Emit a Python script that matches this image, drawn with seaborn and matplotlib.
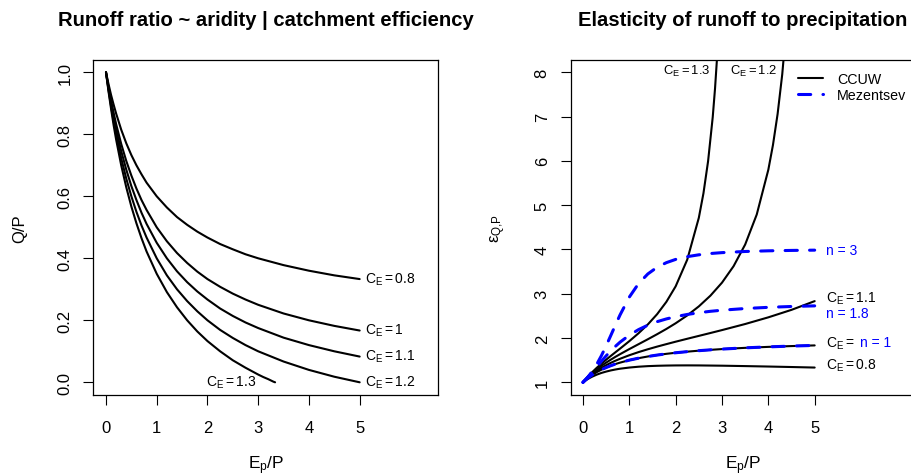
import matplotlib
matplotlib.use("Agg")
import matplotlib.pyplot as plt
import seaborn as sns

# ---------------- data ----------------
ep_p = [0, 0.05, 0.1, 0.15, 0.2, 0.3, 0.4, 0.5, 0.6, 0.7, 0.8, 1.0, 1.2, 1.4, 1.6, 1.8,
        2.0, 2.25, 2.5, 2.75, 3.0, 3.5, 4.0, 4.5, 5.0]
ep_p_ce13_left = [0, 0.05, 0.1, 0.15, 0.2, 0.3, 0.4, 0.5, 0.6, 0.7, 0.8, 1.0, 1.2, 1.4, 1.6,
                  1.8, 2.0, 2.25, 2.5, 2.75, 3.0, 3.1, 3.2, 3.3, 3.333]
ep_p_ce13_right = [0, 0.05, 0.1, 0.15, 0.2, 0.3, 0.4, 0.5, 0.6, 0.7, 0.8, 1.0, 1.2, 1.4, 1.6,
                   1.8, 2.0, 2.25, 2.5, 2.6, 2.7, 2.8, 2.85, 2.9, 2.95, 3.0]
ep_p_ce12_right = [0, 0.05, 0.1, 0.15, 0.2, 0.3, 0.4, 0.5, 0.6, 0.7, 0.8, 1.0, 1.2, 1.4, 1.6,
                   1.8, 2.0, 2.25, 2.5, 2.75, 3.0, 3.25, 3.5, 3.75, 4.0, 4.1, 4.2, 4.3, 4.4, 4.5]

# runoff ratio Q/P (left panel)
qp_ce08 = [1.0, 0.962, 0.927, 0.896, 0.867, 0.815, 0.771, 0.733, 0.7, 0.671, 0.644, 0.6, 0.564,
           0.533, 0.508, 0.486, 0.467, 0.446, 0.429, 0.413, 0.4, 0.378, 0.36, 0.345, 0.333]
qp_ce10 = [1.0, 0.952, 0.909, 0.870, 0.833, 0.769, 0.714, 0.667, 0.625, 0.588, 0.556, 0.5, 0.455,
           0.417, 0.385, 0.357, 0.333, 0.308, 0.286, 0.267, 0.25, 0.222, 0.2, 0.182, 0.167]
qp_ce11 = [1.0, 0.948, 0.9, 0.857, 0.817, 0.746, 0.686, 0.633, 0.588, 0.547, 0.511, 0.45, 0.4,
           0.358, 0.323, 0.293, 0.267, 0.238, 0.214, 0.193, 0.175, 0.144, 0.12, 0.1, 0.083]
qp_ce12 = [1.0, 0.943, 0.891, 0.843, 0.8, 0.723, 0.657, 0.6, 0.55, 0.506, 0.467, 0.4, 0.345,
           0.3, 0.262, 0.229, 0.2, 0.169, 0.143, 0.12, 0.1, 0.067, 0.04, 0.018, 0.0]
qp_ce13 = [1.0, 0.938, 0.882, 0.830, 0.783, 0.7, 0.629, 0.567, 0.513, 0.465, 0.422, 0.35, 0.291,
           0.242, 0.2, 0.164, 0.133, 0.1, 0.071, 0.047, 0.025, 0.017, 0.010, 0.002, 0.0]

# elasticity of runoff to precipitation, CCUW (right panel)
el_ce08 = [1.0, 1.038, 1.071, 1.101, 1.128, 1.174, 1.212, 1.242, 1.268, 1.289, 1.307, 1.333,
           1.352, 1.365, 1.373, 1.378, 1.381, 1.382, 1.381, 1.378, 1.375, 1.366, 1.356, 1.345, 1.333]
el_ce10 = [1.0, 1.048, 1.091, 1.13, 1.167, 1.231, 1.286, 1.333, 1.375, 1.412, 1.444, 1.5, 1.545,
           1.583, 1.615, 1.643, 1.667, 1.692, 1.714, 1.733, 1.75, 1.778, 1.8, 1.818, 1.833]
el_ce11 = [1.0, 1.053, 1.101, 1.146, 1.187, 1.262, 1.327, 1.386, 1.439, 1.487, 1.531, 1.611,
           1.682, 1.746, 1.806, 1.862, 1.917, 1.983, 2.048, 2.113, 2.179, 2.316, 2.467, 2.636, 2.833]
el_ce12 = [1.0, 1.058, 1.111, 1.161, 1.208, 1.295, 1.373, 1.444, 1.511, 1.575, 1.635, 1.75,
           1.861, 1.972, 2.086, 2.205, 2.333, 2.51, 2.714, 2.956, 3.25, 3.622, 4.111, 4.789, 5.8,
           6.36, 7.058, 7.954, 9.148, 10.818]
el_ce13 = [1.0, 1.063, 1.122, 1.178, 1.23, 1.33, 1.422, 1.51, 1.595, 1.678, 1.76, 1.929, 2.108,
           2.307, 2.538, 2.817, 3.167, 3.769, 4.714, 5.268, 5.993, 6.987, 7.637, 8.436, 9.442, 10.75]

# elasticity, Mezentsev (right panel, dashed)
el_n3 = [1.0, 1.053, 1.111, 1.176, 1.247, 1.412, 1.605, 1.823, 2.056, 2.292, 2.521, 2.924, 3.23,
         3.447, 3.598, 3.702, 3.775, 3.837, 3.879, 3.908, 3.928, 3.954, 3.969, 3.978, 3.984]
el_n18 = [1.0, 1.052, 1.108, 1.167, 1.228, 1.353, 1.478, 1.597, 1.709, 1.812, 1.906, 2.064, 2.19,
          2.29, 2.369, 2.431, 2.482, 2.532, 2.571, 2.603, 2.628, 2.666, 2.693, 2.712, 2.726]
el_n1 = [1.0, 1.048, 1.091, 1.13, 1.167, 1.231, 1.286, 1.333, 1.375, 1.412, 1.444, 1.5, 1.545,
         1.583, 1.615, 1.643, 1.667, 1.692, 1.714, 1.733, 1.75, 1.778, 1.8, 1.818, 1.833]

x_ticks = [0, 1, 2, 3, 4, 5]
left_yticks = [0, 0.2, 0.4, 0.6, 0.8, 1.0]
left_yticklabels = ['0.0', '0.2', '0.4', '0.6', '0.8', '1.0']
right_yticks = [1, 2, 3, 4, 5, 6, 7, 8]
right_yticklabels = ['1', '2', '3', '4', '5', '6', '7', '8']

# ---------------- style ----------------
sns.set_style("ticks")
plt.rcParams['font.family'] = ['Liberation Sans', 'DejaVu Sans']
plt.rcParams['mathtext.fontset'] = 'custom'
plt.rcParams['mathtext.rm'] = 'Liberation Sans'
plt.rcParams['mathtext.it'] = 'Liberation Sans:italic'
for key in ('text.color', 'axes.labelcolor', 'xtick.color', 'ytick.color', 'axes.edgecolor'):
    plt.rcParams[key] = 'black'

BLUE = '#0000FF'
fig = plt.figure(figsize=(9.11, 4.77), dpi=100)
W, H = 911, 477


def axrect(l, t, r, b):
    return [l / W, 1 - b / H, (r - l) / W, (b - t) / H]


ax1 = fig.add_axes(axrect(93.2, 60.9, 438.4, 395.7))
ax2 = fig.add_axes(axrect(570.5, 60.9, 915.7, 395.7))


def line(ax, x, y, color='black', lw=1.5, dashed=False):
    sns.lineplot(x=x, y=y, ax=ax, color=color, lw=lw, estimator=None, sort=False, legend=False)
    ln = ax.lines[-1]
    if dashed:
        ln.set_dashes([4, 4])
        ln.set_dash_capstyle('round')
    else:
        ln.set_solid_capstyle('round')
    return ln


# left panel
for ys in (qp_ce08, qp_ce10, qp_ce11, qp_ce12):
    line(ax1, ep_p, ys)
line(ax1, ep_p_ce13_left, qp_ce13)

# right panel
l_ccuw = line(ax2, ep_p, el_ce08)
line(ax2, ep_p, el_ce10)
line(ax2, ep_p, el_ce11)
line(ax2, ep_p_ce12_right, el_ce12)
line(ax2, ep_p_ce13_right, el_ce13)
l_mez = line(ax2, ep_p, el_n3, color=BLUE, lw=2.2, dashed=True)
line(ax2, ep_p, el_n18, color=BLUE, lw=2.2, dashed=True)
line(ax2, ep_p, el_n1, color=BLUE, lw=2.2, dashed=True)

ax1.set_xlim(-0.252, 6.552)
ax1.set_ylim(-0.04, 1.04)
ax2.set_xlim(-0.269, 7.18)
ax2.set_ylim(0.72, 8.28)

for ax in (ax1, ax2):
    ax.set_xticks(x_ticks)
    for s in ax.spines.values():
        s.set_visible(True)
        s.set_color('black')
        s.set_linewidth(0.9)
    ax.tick_params(direction='out', length=7, width=0.8, labelsize=12, color='black',
                   labelcolor='black', bottom=True, left=True, top=False, right=False)
    ax.tick_params(axis='x', pad=11)
    ax.tick_params(axis='y', pad=8)
ax1.set_yticks(left_yticks)
ax1.set_yticklabels(left_yticklabels, rotation=90, va='center')
ax2.set_yticks(right_yticks)
ax2.set_yticklabels(right_yticklabels, rotation=90, va='center')

for ax in (ax1, ax2):
    ax.set_xlabel(r'$\mathrm{E_p/P}$', fontsize=12.5, color='black')
    ax.xaxis.set_label_coords(0.5, -0.21)
    ax.xaxis.label.set_va('center')
ax1.set_ylabel('Q/P', fontsize=12, color='black')
ax1.yaxis.set_label_coords(-0.212, 0.5)
ax1.yaxis.label.set_va('center')
ax2.set_ylabel(r'$\mathrm{ε_{Q{,}P}}$', fontsize=12, color='black')
ax2.yaxis.set_label_coords(-0.21, 0.5)
ax2.yaxis.label.set_va('center')

ax1.text(0.5, 1.104, 'Runoff ratio ~ aridity | catchment efficiency', transform=ax1.transAxes,
         ha='center', va='baseline', fontsize=14.6, fontweight='bold', color='black')
ax2.text(0.5, 1.104, 'Elasticity of runoff to precipitation', transform=ax2.transAxes,
         ha='center', va='baseline', fontsize=14.6, fontweight='bold', color='black')

fs = 10
ax1.text(5.1, 0.335, r'$\mathrm{C_E = 0.8}$', fontsize=fs, va='center')
ax1.text(5.1, 0.169, r'$\mathrm{C_E = 1}$', fontsize=fs, va='center')
ax1.text(5.1, 0.084, r'$\mathrm{C_E = 1.1}$', fontsize=fs, va='center')
ax1.text(5.1, 0.0, r'$\mathrm{C_E = 1.2}$', fontsize=fs, va='center')
ax1.text(2.97, 0.0, r'$\mathrm{C_E = 1.3}$', fontsize=fs, va='center', ha='right')

ax2.text(5.24, 3.99, 'n = 3', fontsize=fs, va='center', color=BLUE)
ax2.text(5.24, 2.90, r'$\mathrm{C_E = 1.1}$', fontsize=fs, va='center')
ax2.text(5.24, 2.565, 'n = 1.8', fontsize=fs, va='center', color=BLUE)
ax2.text(5.24, 1.90, r'$\mathrm{C_E = }$', fontsize=fs, va='center')
ax2.text(5.98, 1.90, 'n = 1', fontsize=fs, va='center', color=BLUE)
ax2.text(5.24, 1.39, r'$\mathrm{C_E = 0.8}$', fontsize=fs, va='center')
ax2.text(2.74, 8.05, r'$\mathrm{C_E = 1.3}$', fontsize=9.4, va='center', ha='right')
ax2.text(4.20, 8.05, r'$\mathrm{C_E = 1.2}$', fontsize=9.4, va='center', ha='right')

leg = ax2.legend([l_ccuw, l_mez], ['CCUW', 'Mezentsev'], loc='upper left',
                 bbox_to_anchor=(0.630, 0.994), frameon=False, fontsize=10.3,
                 handlelength=1.75, handletextpad=1.0, labelspacing=0.17, borderaxespad=0.3)
for t in leg.get_texts():
    t.set_color('black')

fig.savefig('out.png', dpi=100)
